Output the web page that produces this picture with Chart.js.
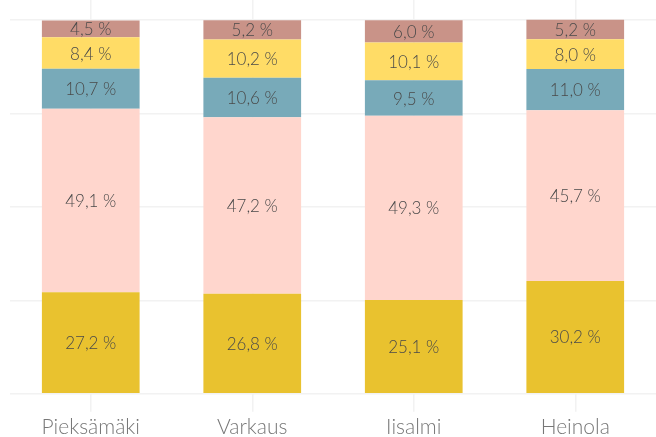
<!DOCTYPE html>
<html><head><meta charset="utf-8">
<script src="https://cdn.jsdelivr.net/npm/chart.js@4/dist/chart.umd.min.js"></script>
<style>html,body{margin:0;padding:0;background:#fff}#wrap{width:656px;height:437px}</style>
</head><body><div id="wrap"><canvas id="c"></canvas></div>
<script>
const categories = ["Pieksämäki", "Varkaus", "Iisalmi", "Heinola"];
const seriesA = [27.2, 26.8, 25.1, 30.2];
const seriesB = [49.1, 47.2, 49.3, 45.7];
const seriesC = [10.7, 10.6, 9.5, 11.0];
const seriesD = [8.4, 10.2, 10.1, 8.0];
const seriesE = [4.5, 5.2, 6.0, 5.2];
const yTicks = [0, 25, 50, 75, 100];

const colors = ["#E9C22F", "#FFD6CD", "#78AAB9", "#FFDC66", "#C99388"];
const data = [seriesA, seriesB, seriesC, seriesD, seriesE];

const labelPlugin = {
  id: 'vlabels',
  afterDatasetsDraw(chart) {
    const ctx = chart.ctx;
    ctx.save();
    ctx.font = '300 17px Lato';
    ctx.fillStyle = '#4a4a4a';
    ctx.textAlign = 'center';
    ctx.textBaseline = 'middle';
    chart.data.datasets.forEach((ds, i) => {
      const meta = chart.getDatasetMeta(i);
      meta.data.forEach((el, j) => {
        const v = ds.data[j];
        const txt = v.toFixed(1).replace('.', ',') + ' %';
        ctx.fillText(txt, el.x, (el.y + el.base) / 2 + 1);
      });
    });
    ctx.restore();
  }
};

new Chart(document.getElementById('c'), {
  type: 'bar',
  data: {
    labels: categories,
    datasets: data.map((d, i) => ({
      data: d,
      backgroundColor: colors[i],
      borderWidth: 0,
      barPercentage: 0.605,
      categoryPercentage: 1.0
    }))
  },
  options: {
    responsive: true,
    maintainAspectRatio: false,
    animation: false,
    layout: { padding: { left: 10, right: 0, top: 0, bottom: -6 } },
    plugins: { legend: { display: false }, tooltip: { enabled: false } },
    scales: {
      x: {
        stacked: true,
        grid: { offset: false, color: '#F2F2F2', lineWidth: 1.5, tickLength: 18, drawTicks: true },
        border: { display: false },
        ticks: { color: '#777777', font: { family: 'Lato', size: 21, weight: 300 }, padding: 3 }
      },
      y: {
        stacked: true,
        min: 0,
        max: 105.4,
        afterBuildTicks: (s) => { s.ticks = yTicks.map(v => ({ value: v })); },
        grid: { color: '#F2F2F2', lineWidth: 1.5, drawTicks: false },
        border: { display: false },
        ticks: { display: false }
      }
    }
  },
  plugins: [labelPlugin]
});
</script></body></html>
